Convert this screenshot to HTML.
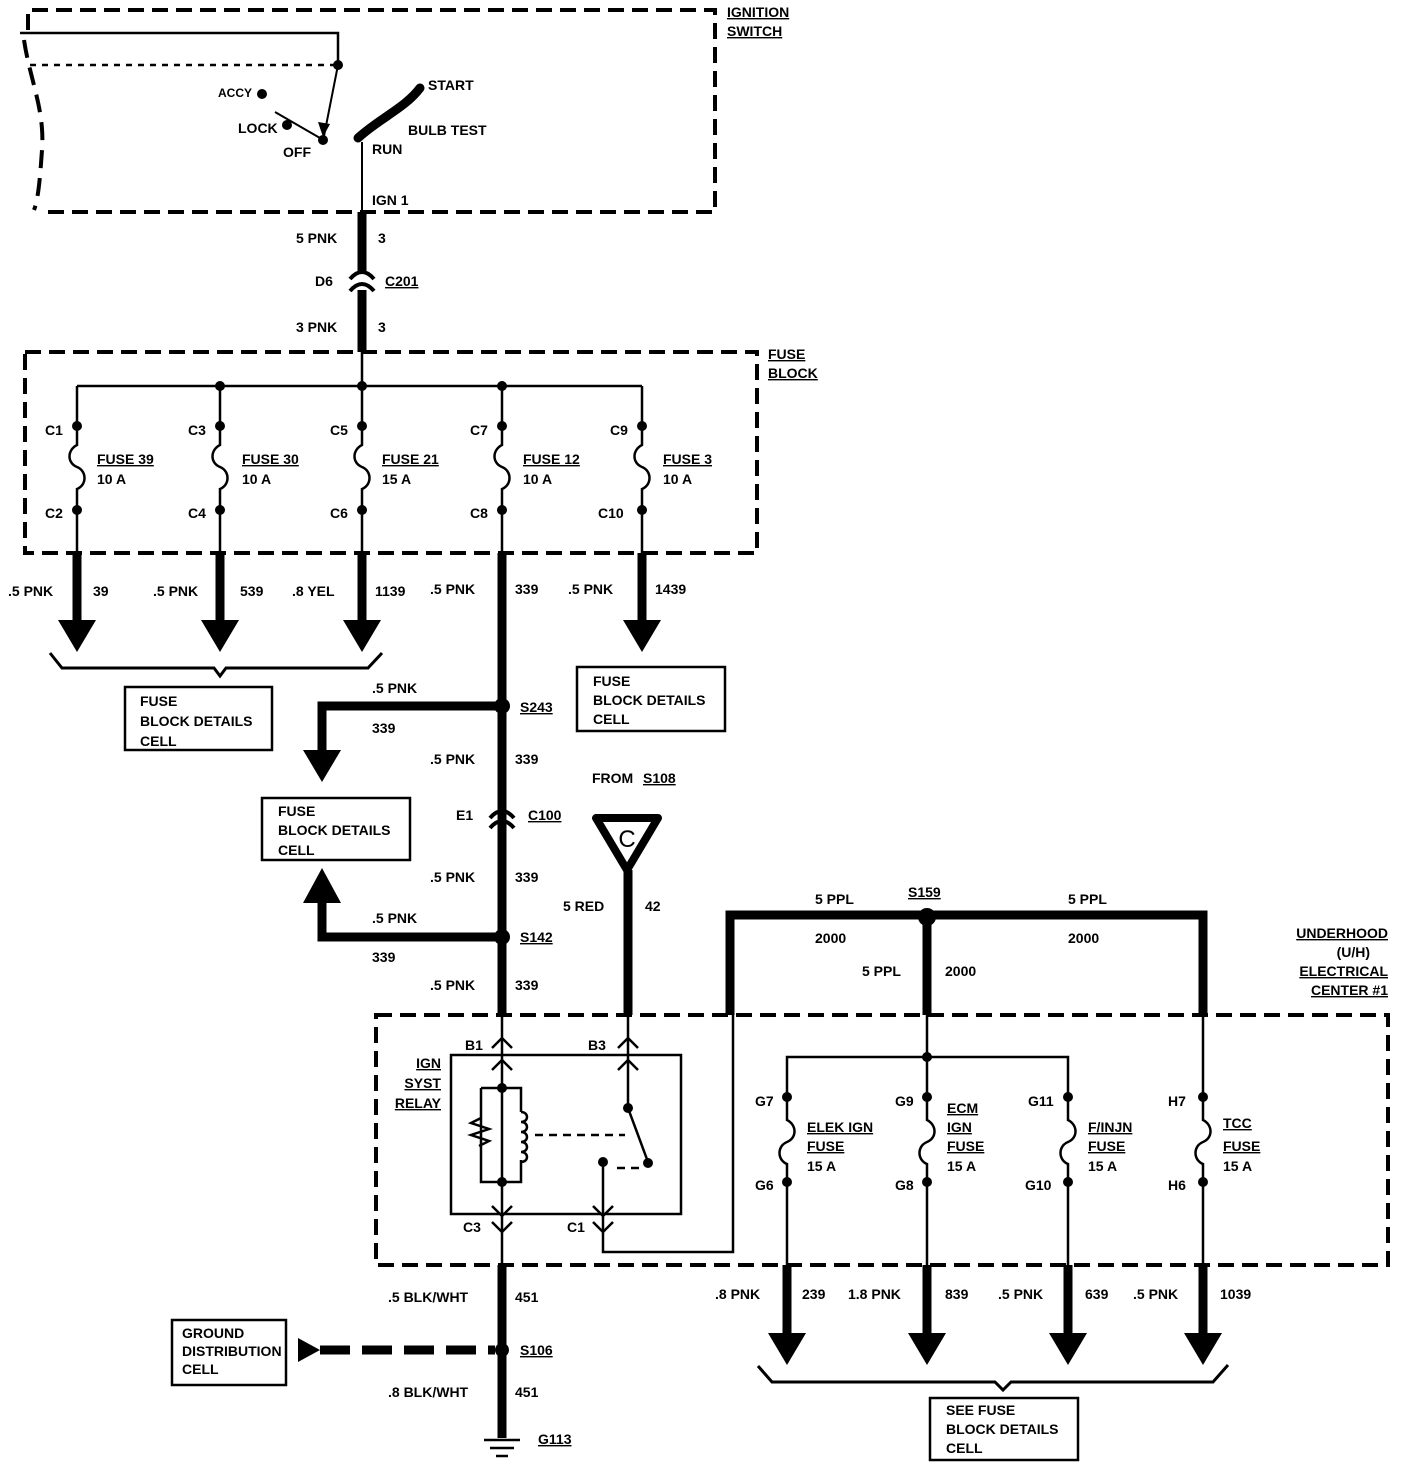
<!DOCTYPE html>
<html><head><style>
html,body{margin:0;padding:0;background:#fff}
svg text{font-family:"Liberation Sans",sans-serif;font-size:14px;font-weight:bold;fill:#000}
</style></head><body>
<svg width="1408" height="1470" viewBox="0 0 1408 1470" xmlns="http://www.w3.org/2000/svg">
<defs>
<g id="dn"><polygon points="-19,0 19,0 0,32" fill="#000"/></g>
</defs>
<g fill="none" stroke="#000">
<!-- ignition switch box -->
<path d="M28,30 L28,10 L715,10 L715,212 L40,212" stroke-width="4" stroke-dasharray="16,8"/>
<path d="M24,40 C30,80 45,110 42,150 C40,180 38,200 34,210" stroke-width="4" stroke-dasharray="18,10"/>
<path d="M20,33 L338,33 L338,65" stroke-width="2.5"/>
<path d="M30,65 L338,65" stroke-width="2.5" stroke-dasharray="6,6"/>
<path d="M338,65 L324,136" stroke-width="2"/>
<path d="M275,112 L320,138" stroke-width="2"/>
<path d="M362,142 L362,212" stroke-width="2"/>
<path d="M358,138 C380,118 405,108 420,88" stroke-width="9" stroke-linecap="round"/>
<!-- main wire -->
<path d="M362,212 L362,272 M362,290 L362,352" stroke-width="9"/>
<path d="M350,279 Q362,265 374,279 M350,291 Q362,277 374,291" stroke-width="4"/>
<!-- fuse block -->
<rect x="25" y="352" width="732" height="201" stroke-width="4" stroke-dasharray="16,8"/>
<path d="M362,352 L362,386 M77,386 L642,386" stroke-width="2.5"/>
<g stroke-width="2.5">
<path d="M77,386 V445 c-10,5 -10,18 0,22 c10,4 10,18 0,22 V553"/>
<path d="M220,386 V445 c-10,5 -10,18 0,22 c10,4 10,18 0,22 V553"/>
<path d="M362,386 V445 c-10,5 -10,18 0,22 c10,4 10,18 0,22 V553"/>
<path d="M502,386 V445 c-10,5 -10,18 0,22 c10,4 10,18 0,22 V553"/>
<path d="M642,386 V445 c-10,5 -10,18 0,22 c10,4 10,18 0,22 V553"/>
</g>
<path d="M77,553 V622 M220,553 V622 M362,553 V622 M642,553 V622" stroke-width="9"/>
<path d="M502,553 V1015" stroke-width="9"/>
<path d="M50,653 L62,668 L214,668 L220,676 L226,668 L368,668 L382,653" stroke-width="3"/>
<rect x="125" y="687" width="147" height="63" stroke-width="2.5"/>
<rect x="577" y="667" width="148" height="64" stroke-width="2.5"/>
<path d="M502,706 L322,706 L322,752" stroke-width="9"/>
<rect x="262" y="798" width="148" height="62" stroke-width="2.5"/>
<path d="M502,937 L322,937 L322,900" stroke-width="9"/>
<path d="M490,818 Q502,804 514,818 M490,828 Q502,814 514,828" stroke-width="4"/>
<path d="M596,818 L658,818 L627,870 Z" stroke-width="8" stroke-linejoin="round"/>
<path d="M628,870 V1015" stroke-width="9"/>
<path d="M730,1015 V915 H1203 V1015 M927,915 V1015" stroke-width="9"/>
<!-- UH box -->
<rect x="376" y="1015" width="1012" height="250" stroke-width="4" stroke-dasharray="16,8"/>
<!-- relay -->
<rect x="451" y="1055" width="230" height="159" stroke-width="2.5"/>
<path d="M502,1015 V1265 M628,1015 V1108" stroke-width="2.5"/>
<path d="M492,1048 L502,1038 L512,1048 M492,1070 L502,1060 L512,1070 M618,1048 L628,1038 L638,1048 M618,1070 L628,1060 L638,1070" stroke-width="2.5"/>
<path d="M492,1206 L502,1216 L512,1206 M492,1222 L502,1232 L512,1222 M593,1206 L603,1216 L613,1206 M593,1222 L603,1232 L613,1222" stroke-width="2.5"/>
<path d="M481,1088 H521 V1112 M481,1088 V1182 H521 V1160 M481,1118 l-10,5 l18,6 l-18,6 l18,6 l-10,5" stroke-width="2.5"/>
<path d="M521,1112 c8,0 8,10 0,10 c8,0 8,10 0,10 c8,0 8,10 0,10 c8,0 8,10 0,10 c8,0 8,10 0,10" stroke-width="2.5"/>
<path d="M535,1135 H625 M617,1168 H640" stroke-width="2.5" stroke-dasharray="8,6"/>
<path d="M628,1108 L648,1162 M603,1162 V1232 L603,1252 H733 V1015" stroke-width="2.5"/>
<!-- UH fuses -->
<path d="M787,1097 V1057 H1068 V1097 M927,1015 V1057 M1203,1015 V1097" stroke-width="2.5"/>
<g stroke-width="2.5">
<path d="M787,1097 V1120 c10,5 10,18 0,22 c-10,4 -10,18 0,22 V1265"/>
<path d="M927,1057 V1120 c10,5 10,18 0,22 c-10,4 -10,18 0,22 V1265"/>
<path d="M1068,1097 V1120 c10,5 10,18 0,22 c-10,4 -10,18 0,22 V1265"/>
<path d="M1203,1097 V1120 c10,5 10,18 0,22 c-10,4 -10,18 0,22 V1265"/>
</g>
<path d="M787,1265 V1335 M927,1265 V1335 M1068,1265 V1335 M1203,1265 V1335" stroke-width="9"/>
<path d="M758,1366 L772,1382 L995,1382 L1003,1390 L1011,1382 L1213,1382 L1228,1365" stroke-width="3"/>
<rect x="930" y="1398" width="148" height="62" stroke-width="2.5"/>
<!-- bottom -->
<path d="M502,1265 V1438" stroke-width="9"/>
<path d="M320,1350 H495" stroke-width="9" stroke-dasharray="30,12"/>
<rect x="172" y="1320" width="114" height="65" stroke-width="2.5"/>
<path d="M484,1440 H520 M490,1448 H514 M496,1456 H508" stroke-width="2.5"/>
</g>
<g fill="#000">
<circle cx="338" cy="65" r="5"/><circle cx="262" cy="94" r="5"/><circle cx="287" cy="125" r="5"/><circle cx="323" cy="140" r="5"/>
<polygon points="318,122 330,124 323,137"/>
<circle cx="362" cy="386" r="5"/><circle cx="220" cy="386" r="5"/><circle cx="502" cy="386" r="5"/>
<circle cx="77" cy="426" r="5"/><circle cx="220" cy="426" r="5"/><circle cx="362" cy="426" r="5"/><circle cx="502" cy="426" r="5"/><circle cx="642" cy="426" r="5"/>
<circle cx="77" cy="510" r="5"/><circle cx="220" cy="510" r="5"/><circle cx="362" cy="510" r="5"/><circle cx="502" cy="510" r="5"/><circle cx="642" cy="510" r="5"/>
<use href="#dn" x="77" y="620"/><use href="#dn" x="220" y="620"/><use href="#dn" x="362" y="620"/><use href="#dn" x="642" y="620"/>
<circle cx="502" cy="706" r="8"/><circle cx="502" cy="937" r="8"/>
<use href="#dn" x="322" y="750"/>
<polygon points="303,903 341,903 322,868"/>
<circle cx="927" cy="917" r="9"/>
<circle cx="502" cy="1088" r="5"/><circle cx="502" cy="1182" r="5"/><circle cx="628" cy="1108" r="5"/><circle cx="648" cy="1163" r="5"/><circle cx="603" cy="1162" r="5"/>
<circle cx="927" cy="1057" r="5"/>
<circle cx="787" cy="1097" r="5"/><circle cx="927" cy="1097" r="5"/><circle cx="1068" cy="1097" r="5"/><circle cx="1203" cy="1097" r="5"/>
<circle cx="787" cy="1182" r="5"/><circle cx="927" cy="1182" r="5"/><circle cx="1068" cy="1182" r="5"/><circle cx="1203" cy="1182" r="5"/>
<use href="#dn" x="787" y="1333"/><use href="#dn" x="927" y="1333"/><use href="#dn" x="1068" y="1333"/><use href="#dn" x="1203" y="1333"/>
<circle cx="502" cy="1350" r="7"/>
<polygon points="298,1338 298,1362 320,1350"/>
</g>
<g text-decoration="underline">
<text x="727" y="17">IGNITION</text><text x="727" y="36">SWITCH</text>
<text x="768" y="359">FUSE</text><text x="768" y="378">BLOCK</text>
<text x="385" y="286">C201</text><text x="520" y="712">S243</text><text x="528" y="820">C100</text><text x="643" y="783">S108</text>
<text x="520" y="942">S142</text><text x="908" y="897">S159</text><text x="520" y="1355">S106</text><text x="538" y="1444">G113</text>
<text x="97" y="464">FUSE 39</text><text x="242" y="464">FUSE 30</text><text x="382" y="464">FUSE 21</text><text x="523" y="464">FUSE 12</text><text x="663" y="464">FUSE 3</text>
<text x="441" y="1068" text-anchor="end">IGN</text><text x="441" y="1088" text-anchor="end">SYST</text><text x="441" y="1108" text-anchor="end">RELAY</text>
<text x="1388" y="938" text-anchor="end">UNDERHOOD</text><text x="1388" y="995" text-anchor="end">CENTER #1</text><text x="1388" y="976" text-anchor="end">ELECTRICAL</text>
<text x="807" y="1132">ELEK IGN</text><text x="807" y="1151">FUSE</text>
<text x="947" y="1113">ECM</text><text x="947" y="1132">IGN</text><text x="947" y="1151">FUSE</text>
<text x="1088" y="1132">F/INJN</text><text x="1088" y="1151">FUSE</text>
<text x="1223" y="1128">TCC</text><text x="1223" y="1151">FUSE</text>
</g>
<text x="1370" y="957" text-anchor="end">(U/H)</text>
<text x="428" y="90">START</text><text x="408" y="135">BULB TEST</text><text x="372" y="154">RUN</text><text x="283" y="157">OFF</text>
<text x="218" y="97" style="font-size:12px">ACCY</text><text x="238" y="133">LOCK</text><text x="372" y="205">IGN 1</text>
<text x="296" y="243">5 PNK</text><text x="378" y="243">3</text><text x="315" y="286">D6</text><text x="296" y="332">3 PNK</text><text x="378" y="332">3</text>
<text x="45" y="435">C1</text><text x="45" y="518">C2</text><text x="188" y="435">C3</text><text x="188" y="518">C4</text>
<text x="330" y="435">C5</text><text x="330" y="518">C6</text><text x="470" y="435">C7</text><text x="470" y="518">C8</text>
<text x="610" y="435">C9</text><text x="598" y="518">C10</text>
<text x="97" y="484">10 A</text><text x="242" y="484">10 A</text><text x="382" y="484">15 A</text><text x="523" y="484">10 A</text><text x="663" y="484">10 A</text>
<text x="8" y="596">.5 PNK</text><text x="93" y="596">39</text><text x="153" y="596">.5 PNK</text><text x="240" y="596">539</text>
<text x="292" y="596">.8 YEL</text><text x="375" y="596">1139</text><text x="430" y="594">.5 PNK</text><text x="515" y="594">339</text>
<text x="568" y="594">.5 PNK</text><text x="655" y="594">1439</text>
<text x="140" y="706">FUSE</text><text x="140" y="726">BLOCK DETAILS</text><text x="140" y="746">CELL</text>
<text x="593" y="686">FUSE</text><text x="593" y="705">BLOCK DETAILS</text><text x="593" y="724">CELL</text>
<text x="372" y="693">.5 PNK</text><text x="372" y="733">339</text>
<text x="430" y="764">.5 PNK</text><text x="515" y="764">339</text><text x="592" y="783">FROM</text>
<text x="456" y="820">E1</text>
<text x="278" y="816">FUSE</text><text x="278" y="835">BLOCK DETAILS</text><text x="278" y="855">CELL</text>
<text x="430" y="882">.5 PNK</text><text x="515" y="882">339</text>
<text x="627" y="847" text-anchor="middle" style="font-size:24px;font-weight:normal">C</text>
<text x="563" y="911">5 RED</text><text x="645" y="911">42</text>
<text x="372" y="923">.5 PNK</text><text x="372" y="962">339</text>
<text x="430" y="990">.5 PNK</text><text x="515" y="990">339</text>
<text x="815" y="904">5 PPL</text><text x="1068" y="904">5 PPL</text><text x="815" y="943">2000</text><text x="1068" y="943">2000</text>
<text x="862" y="976">5 PPL</text><text x="945" y="976">2000</text>
<text x="465" y="1050">B1</text><text x="588" y="1050">B3</text><text x="463" y="1232">C3</text><text x="567" y="1232">C1</text>
<text x="755" y="1106">G7</text><text x="755" y="1190">G6</text><text x="895" y="1106">G9</text><text x="895" y="1190">G8</text>
<text x="1028" y="1106">G11</text><text x="1025" y="1190">G10</text><text x="1168" y="1106">H7</text><text x="1168" y="1190">H6</text>
<text x="807" y="1171">15 A</text><text x="947" y="1171">15 A</text><text x="1088" y="1171">15 A</text><text x="1223" y="1171">15 A</text>
<text x="715" y="1299">.8 PNK</text><text x="802" y="1299">239</text><text x="848" y="1299">1.8 PNK</text><text x="945" y="1299">839</text>
<text x="998" y="1299">.5 PNK</text><text x="1085" y="1299">639</text><text x="1133" y="1299">.5 PNK</text><text x="1220" y="1299">1039</text>
<text x="946" y="1415">SEE FUSE</text><text x="946" y="1434">BLOCK DETAILS</text><text x="946" y="1453">CELL</text>
<text x="388" y="1302">.5 BLK/WHT</text><text x="515" y="1302">451</text>
<text x="182" y="1338">GROUND</text><text x="182" y="1356">DISTRIBUTION</text><text x="182" y="1374">CELL</text>
<text x="388" y="1397">.8 BLK/WHT</text><text x="515" y="1397">451</text>
</svg>
</body></html>
